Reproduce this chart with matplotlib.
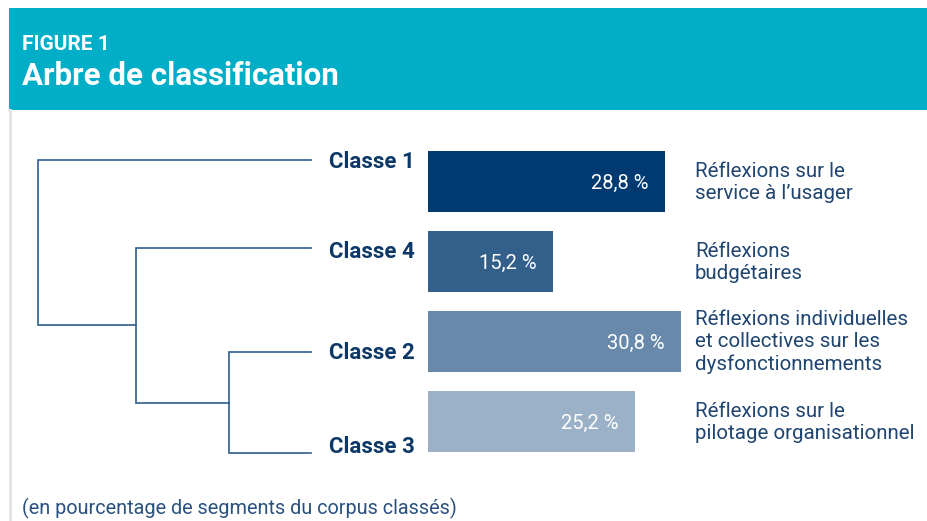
import matplotlib
matplotlib.use('Agg')
import matplotlib.pyplot as plt
from matplotlib.patches import Rectangle
from matplotlib.transforms import blended_transform_factory

W, H = 928, 521

# data
classes = ['Classe 1', 'Classe 4', 'Classe 2', 'Classe 3']
pct = [28.8, 15.2, 30.8, 25.2]
pct_labels = ['28,8 %', '15,2 %', '30,8 %', '25,2 %']
descriptions = ['Réflexions sur le\nservice à l\u2019usager',
                'Réflexions\nbudgétaires',
                'Réflexions individuelles\net collectives sur les\ndysfonctionnements',
                'Réflexions sur le\npilotage organisationnel']
bar_colors = ['#003a70', '#33608a', '#6889aa', '#9ab1c8']

# dendrogram: leaves in display order, merges (child a, child b, height)
leaf_y = [160, 248, 352, 453]
merges = [(2, 3, 0.30), (1, 4, 0.64), (0, 5, 1.0)]

navy = '#0c3868'
text_blue = '#1f4570'
line_col = '#2f5d8e'

plt.rcParams['font.family'] = ['Roboto', 'DejaVu Sans']

fig = plt.figure(figsize=(W / 100, H / 100), dpi=100)
fig.patch.set_facecolor('white')

# background axes in pixel units
bg = fig.add_axes([0, 0, 1, 1])
bg.set_xlim(0, W)
bg.set_ylim(H, 0)
bg.axis('off')
bg.add_patch(Rectangle((9, 8), W - 9, 102, color='#00aec7', lw=0))
bg.plot([10, 10], [110, H], color='#e4e4e4', lw=2.2)
bg.text(22, 50, 'FIGURE 1', color='white', fontsize=15, fontweight='bold', va='baseline')
bg.text(22, 85, 'Arbre de classification', color='white', fontsize=22.5, fontweight='bold', va='baseline')
bg.text(22, 514, '(en pourcentage de segments du corpus classés)', color='#2a5280',
        fontsize=14.3, va='baseline')

# dendrogram
dn = fig.add_axes([38 / W, 0, (311 - 38) / W, 1])
dn.set_xlim(1.0, 0)
dn.set_ylim(H, 0)
dn.axis('off')
nodes = [(y, 0.0) for y in leaf_y]
for a, b, h in merges:
    ya, ha = nodes[a]
    yb, hb = nodes[b]
    dn.plot([ha, h, h, hb], [ya, ya, yb, yb], color=line_col, lw=1.2, clip_on=False,
            solid_joinstyle='miter')
    nodes.append(((ya + yb) / 2, h))

label_base = [8, 10, 7, 0]
for name, y, off in zip(classes, leaf_y, label_base):
    bg.text(329, y + off, name, color=navy, fontsize=16, fontweight='bold', va='baseline')

# bars
px_per_pct = 8.22
ax = fig.add_axes([428 / W, (H - 461.5) / H, 300 / W, 320 / H])
ax.set_xlim(0, 300 / px_per_pct)
ax.set_ylim(3.5, -0.5)
ax.axis('off')
ypos = list(range(len(pct)))
ax.barh(ypos, pct, height=61 / 80, color=bar_colors)
for y, v, lab in zip(ypos, pct, pct_labels):
    ax.text(v - 2.0, y + 0.02, lab, color='white', fontsize=14.5, ha='right', va='center')

tr = blended_transform_factory(bg.transData, ax.transData)
for y, d in zip(ypos, descriptions):
    ax.text(695, y + 0.01, d, transform=tr, color=text_blue, fontsize=14.8,
            ha='left', va='center', linespacing=1.22, clip_on=False)

fig.savefig('out.png', dpi=100)
